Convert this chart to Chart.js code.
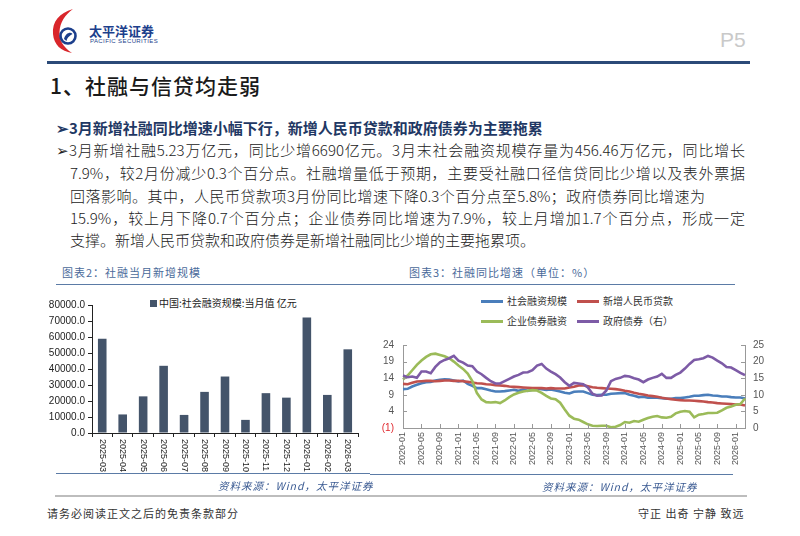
<!DOCTYPE html>
<html>
<head>
<meta charset="utf-8">
<script src="https://cdn.jsdelivr.net/npm/chart.js@4.4.1/dist/chart.umd.min.js"></script>
<style>
  body { margin: 0; background: #fff; }
  #page { position: relative; width: 800px; height: 536px; overflow: hidden; font-family: "Noto Sans CJK SC", "Noto Sans", sans-serif; color: #222; }
  .abs { position: absolute; white-space: nowrap; }
  .hline { position: absolute; height: 0; }
  .para { position: absolute; font-size: 15px; font-weight: 300; line-height: 20px; text-align: justify; text-align-last: justify; white-space: nowrap; }
  .cap { position: absolute; font-size: 11px; color: #4a6a9a; letter-spacing: 1px; }
  .src { position: absolute; font-size: 10.5px; color: #3a5a92; font-style: italic; letter-spacing: 1px; }
  .lg { position: absolute; font-size: 10px; color: #333; line-height: 12px; }
  .lg i { display: inline-block; width: 22px; height: 3px; vertical-align: middle; margin-right: 4px; position: relative; top: -1px; }
  canvas { position: absolute; }
</style>
</head>
<body>
<div id="page">
  <!-- header -->
  <svg class="abs" style="left:51px;top:8px" width="28" height="46" viewBox="0 0 28 46">
    <path d="M22 1 C8 5 1 14 2 26 C3 37 10 43 21 45 C12 39 8 32 8.5 24 C9 14 14 7 22 1 Z" fill="#d9262b"/>
    <circle cx="17" cy="28" r="7.5" fill="none" stroke="#1c3f8c" stroke-width="2.6"/>
    <path d="M13 31 C14.5 25 19.5 23.5 21.5 26 C19.5 27.5 16.5 28.5 15.5 33 Z" fill="#1c3f8c"/>
  </svg>
  <div class="abs" style="left:89px;top:21px;font-size:13px;font-weight:700;color:#1c3f8c">太平洋证券</div>
  <div class="abs" style="left:90px;top:38px;font-size:6px;color:#1c3f8c;font-family:'Liberation Sans';letter-spacing:0.4px">PACIFIC SECURITIES</div>
  <div class="abs" style="left:720px;top:28px;font-size:21px;color:#c9c9c9;font-family:'Liberation Sans Narrow','Liberation Sans'">P5</div>
  <div class="hline" style="left:47px;top:61px;width:703px;border-top:3px solid #2b4a78"></div>
  <div class="abs" style="left:50px;top:70px;font-size:21px;font-weight:500;color:#1a1a1a;letter-spacing:1px">1、社融与信贷均走弱</div>

  <!-- text -->
  <div class="abs" style="left:56px;top:117px;font-size:15px;font-weight:700;color:#1f3864">➢3月新增社融同比增速小幅下行，新增人民币贷款和政府债券为主要拖累</div>
  <div class="para" style="left:56px;top:140px;width:689px">➢3月新增社融5.23万亿元，同比少增6690亿元。3月末社会融资规模存量为456.46万亿元，同比增长</div>
  <div class="para" style="left:70px;top:163px;width:675px">7.9%，较2月份减少0.3个百分点。社融增量低于预期，主要受社融口径信贷同比少增以及表外票据</div>
  <div class="para" style="left:70px;top:186px;width:635px">回落影响。其中，人民币贷款项3月份同比增速下降0.3个百分点至5.8%；政府债券同比增速为</div>
  <div class="para" style="left:70px;top:208px;width:675px">15.9%，较上月下降0.7个百分点；企业债券同比增速为7.9%，较上月增加1.7个百分点，形成一定</div>
  <div class="abs" style="left:70px;top:230px;font-size:15px;font-weight:300;line-height:20px">支撑。新增人民币贷款和政府债券是新增社融同比少增的主要拖累项。</div>

  <!-- captions -->
  <div class="cap" style="left:62px;top:264px">图表2：社融当月新增规模</div>
  <div class="cap" style="left:409px;top:264px">图表3：社融同比增速（单位：%）</div>
  <div class="hline" style="left:56px;top:284px;width:314px;border-top:1px solid #5b7ba6"></div>
  <div class="hline" style="left:370px;top:284px;width:365px;border-top:1px solid #5b7ba6"></div>

  <!-- left legend -->
  <div class="lg" style="left:150px;top:297px;font-size:10px;color:#222"><span style="display:inline-block;width:7px;height:7px;background:#44546a;margin-right:2px"></span>中国:社会融资规模:当月值 亿元</div>

  <!-- right legend -->
  <div class="lg" style="left:481px;top:295px"><i style="background:#4a7ebb"></i>社会融资规模</div>
  <div class="lg" style="left:577px;top:295px"><i style="background:#c0504d"></i>新增人民币贷款</div>
  <div class="lg" style="left:481px;top:315px"><i style="background:#9bbb59"></i>企业债券融资</div>
  <div class="lg" style="left:577px;top:315px"><i style="background:#7d5ba6"></i>政府债券（右）</div>

  <canvas id="barChart" style="left:40px;top:295px" width="330" height="180"></canvas>
  <canvas id="lineChart" style="left:370px;top:330px" width="410" height="145"></canvas>

  <!-- sources -->
  <div class="hline" style="left:56px;top:473px;width:314px;border-top:1px solid #5b7ba6"></div>
  <div class="hline" style="left:370px;top:474px;width:363px;border-top:1px solid #5b7ba6"></div>
  <div class="src" style="left:218px;top:478px">资料来源：Wind，太平洋证券</div>
  <div class="src" style="left:542px;top:479px">资料来源：Wind，太平洋证券</div>
  <div class="hline" style="left:55px;top:495px;width:692px;border-top:2px solid #bdbdbd"></div>

  <!-- footer -->
  <div class="abs" style="left:47px;top:505px;font-size:11px;color:#333;letter-spacing:1px">请务必阅读正文之后的免责条款部分</div>
  <div class="abs" style="left:638px;top:505px;font-size:11px;color:#333;letter-spacing:1px">守正 出奇 宁静 致远</div>
</div>

<script>
// 图表2：社融当月新增（亿元）
const barMonths = ["2025-03", "2025-04", "2025-05", "2025-06", "2025-07", "2025-08", "2025-09",
  "2025-10", "2025-11", "2025-12", "2026-01", "2026-02", "2026-03"];
const tsfMonthly = [58900, 11600, 22900, 42000, 11300, 25700, 35300, 8200, 24900, 22100, 72200, 23800, 52300];

// 图表3：同比增速（%），2020-01 ~ 2026-03
const lineMonths = [];
for (let y = 2020; y <= 2026; y++) {
  for (let m = 1; m <= 12; m++) {
    if (y === 2026 && m > 3) break;
    lineMonths.push(y + "-" + String(m).padStart(2, "0"));
  }
}
const tsfGrowth = [
  10.7, 10.8, 11.5, 12.0, 12.5, 12.8, 12.9, 13.3, 13.5, 13.7, 13.6, 13.3,
  13.0, 13.3, 12.3, 11.7, 11.0, 11.0, 10.7, 10.3, 10.0, 10.0, 10.1, 10.3,
  10.5, 10.2, 10.6, 10.2, 10.5, 10.8, 10.7, 10.5, 10.6, 10.3, 10.0, 9.6,
  9.4, 9.9, 10.0, 10.0, 9.5, 9.0, 8.9, 9.0, 9.0, 9.3, 9.4, 9.5,
  9.5, 9.0, 8.7, 8.3, 8.4, 8.1, 8.2, 8.1, 8.0, 7.8, 7.8, 8.0,
  8.0, 8.2, 8.4, 8.7, 8.7, 8.9, 9.0, 8.8, 8.7, 8.5, 8.5, 8.3,
  8.2, 8.2, 7.9
];
const loanGrowth = [
  12.3, 12.2, 12.6, 13.0, 13.1, 13.2, 13.2, 13.1, 13.2, 13.3, 13.3, 13.2,
  13.2, 13.1, 12.9, 12.7, 12.5, 12.4, 12.2, 12.1, 11.9, 11.8, 11.7, 11.5,
  11.4, 11.3, 11.2, 11.1, 11.0, 11.0, 11.0, 10.9, 11.0, 10.9, 10.9, 10.9,
  11.2, 11.4, 11.8, 11.9, 11.6, 11.3, 11.1, 11.0, 10.9, 10.8, 10.7, 10.5,
  10.2, 10.0, 9.6, 9.3, 9.1, 8.8, 8.6, 8.4, 8.1, 7.9, 7.7, 7.5,
  7.4, 7.3, 7.3, 7.2, 7.1, 7.0, 6.8, 6.7, 6.5, 6.4, 6.3, 6.2,
  6.1, 6.1, 5.8
];
const bondGrowth = [
  13.6, 14.8, 16.4, 18.0, 19.3, 20.4, 21.2, 21.4, 21.0, 20.6, 20.0, 19.0,
  17.8, 16.8, 15.4, 13.1, 9.5, 7.6, 6.8, 6.7, 6.8, 6.5, 7.3, 8.3,
  9.1, 9.6, 10.0, 10.2, 10.4, 10.3, 9.6, 8.7, 7.9, 7.7, 6.6, 4.6,
  2.7, 1.8, 1.5, 0.8, 0.1, -0.3, -0.4, -0.3, -0.3, -0.8, -0.6, -0.1,
  0.8, 0.6, 1.1, 0.9, 1.5, 2.0, 2.4, 2.6, 2.2, 2.1, 2.4, 3.4,
  3.9, 4.1, 3.9, 2.2, 3.0, 3.2, 3.5, 3.5, 3.6, 4.3, 5.1, 5.5,
  6.0, 6.2, 7.9
];
const govGrowth = [
  15.8, 15.3, 15.5, 15.1, 17.0, 17.0, 16.5, 18.4, 19.8, 20.5, 21.0, 21.7,
  20.3, 19.7, 18.8, 18.6, 17.0, 16.2, 15.1, 14.1, 13.4, 13.4, 14.1, 14.8,
  15.5, 16.0, 16.7, 16.8, 17.4, 18.8, 19.3, 17.9, 17.0, 16.2, 15.2, 13.8,
  12.7, 13.6, 13.4, 13.2, 12.2, 10.3, 9.7, 9.8, 11.3, 14.1, 14.8, 15.1,
  15.7, 15.5, 15.0, 14.6, 13.8, 14.6, 15.1, 15.5, 16.3, 15.1, 15.1, 16.0,
  16.7, 17.9, 19.3, 20.5, 20.7, 21.0, 21.7, 21.2, 20.3, 19.5, 18.4, 18.2,
  17.4, 16.6, 15.9
];
const leftTicks = { min: -1, max: 24, step: 5 };
const rightTicks = { min: 0, max: 25, step: 5 };

const tickFont = { family: "Liberation Sans", size: 10 };

// bar chart x labels read top-to-bottom
const downLabels = {
  id: "downLabels",
  afterDraw(chart) {
    const xs = chart.scales.x, ctx = chart.ctx;
    ctx.save();
    ctx.font = '9px "Liberation Sans"';
    ctx.fillStyle = "#222";
    ctx.textAlign = "left";
    ctx.textBaseline = "middle";
    barMonths.forEach((lab, i) => {
      ctx.save();
      ctx.translate(xs.getPixelForValue(i), xs.top + 6);
      ctx.rotate(Math.PI / 2);
      ctx.fillText(lab, 0, 0);
      ctx.restore();
    });
    ctx.restore();
  }
};

new Chart(document.getElementById("barChart"), {
  type: "bar",
  data: {
    labels: barMonths,
    datasets: [{ label: "中国:社会融资规模:当月值 亿元", data: tsfMonthly, backgroundColor: "#44546a",
      categoryPercentage: 1, barPercentage: 0.42 }]
  },
  options: {
    responsive: false, animation: false,
    layout: { padding: { top: 10, right: 12 } },
    plugins: { legend: { display: false }, tooltip: { enabled: false } },
    scales: {
      x: {
        grid: { display: true, drawOnChartArea: false, tickLength: 4, color: "#222" },
        border: { color: "#222" },
        ticks: { display: false },
        afterFit: s => { s.height = 42; }
      },
      y: {
        min: 0, max: 80000,
        grid: { display: true, drawOnChartArea: false, tickLength: 4, color: "#222" },
        border: { color: "#222" },
        ticks: { stepSize: 10000, font: tickFont, color: "#222", padding: 3, callback: v => v.toFixed(1) },
        afterFit: s => { s.width = 52; }
      }
    }
  },
  plugins: [downLabels]
});

// inward tick marks on the line chart
const innerTicks = {
  id: "innerTicks",
  afterDraw(chart) {
    const { x, y, y1 } = chart.scales, ctx = chart.ctx;
    ctx.save();
    ctx.strokeStyle = "#999";
    ctx.lineWidth = 1;
    ctx.beginPath();
    lineMonths.forEach((m, i) => {
      if (i % 4 !== 0) return;
      const px = Math.round(x.getPixelForValue(i)) + 0.5;
      ctx.moveTo(px, x.top); ctx.lineTo(px, x.top - 4);
    });
    for (let v = leftTicks.min; v <= leftTicks.max; v += leftTicks.step) {
      const py = Math.round(y.getPixelForValue(v)) + 0.5;
      ctx.moveTo(y.right, py); ctx.lineTo(y.right + 4, py);
    }
    for (let v = rightTicks.min; v <= rightTicks.max; v += rightTicks.step) {
      const py = Math.round(y1.getPixelForValue(v)) + 0.5;
      ctx.moveTo(y1.left, py); ctx.lineTo(y1.left - 4, py);
    }
    ctx.stroke();
    ctx.restore();
  }
};

const line = (label, data, color, axis) => ({
  label, data, borderColor: color, backgroundColor: color, borderWidth: 2.6,
  pointRadius: 0, tension: 0, yAxisID: axis
});

new Chart(document.getElementById("lineChart"), {
  type: "line",
  data: {
    labels: lineMonths,
    datasets: [
      line("政府债券（右）", govGrowth, "#7d5ba6", "y1"),
      line("企业债券融资", bondGrowth, "#9bbb59", "y"),
      line("新增人民币贷款", loanGrowth, "#c0504d", "y"),
      line("社会融资规模", tsfGrowth, "#4a7ebb", "y")
    ]
  },
  options: {
    responsive: false, animation: false,
    layout: { padding: { top: 8, right: 0 } },
    plugins: { legend: { display: false }, tooltip: { enabled: false } },
    scales: {
      x: {
        offset: false,
        grid: { display: true, drawOnChartArea: false, drawTicks: false, color: "#999" },
        border: { color: "#999" },
        ticks: {
          autoSkip: false, minRotation: 90, maxRotation: 90, padding: 4,
          font: { family: "Liberation Sans", size: 9 }, color: "#555",
          callback: (v, i) => (i % 4 === 0 ? lineMonths[i] : "")
        },
        afterFit: s => { s.height = 47; }
      },
      y: {
        position: "left", min: leftTicks.min, max: leftTicks.max,
        grid: { display: true, drawOnChartArea: false, drawTicks: false, color: "#999" },
        border: { color: "#999" },
        ticks: {
          stepSize: leftTicks.step, padding: 9, font: tickFont,
          color: c => (c.tick && c.tick.value < 0 ? "#e0282e" : "#555"),
          callback: v => (v < 0 ? "(" + Math.abs(v) + ")" : v)
        },
        afterFit: s => { s.width = 33; }
      },
      y1: {
        position: "right", min: rightTicks.min, max: rightTicks.max,
        grid: { display: true, drawOnChartArea: false, drawTicks: false, color: "#999" },
        border: { color: "#999" },
        ticks: { stepSize: rightTicks.step, padding: 8, font: tickFont, color: "#555" },
        afterFit: s => { s.width = 35; }
      }
    }
  },
  plugins: [innerTicks]
});
</script>
</body>
</html>
